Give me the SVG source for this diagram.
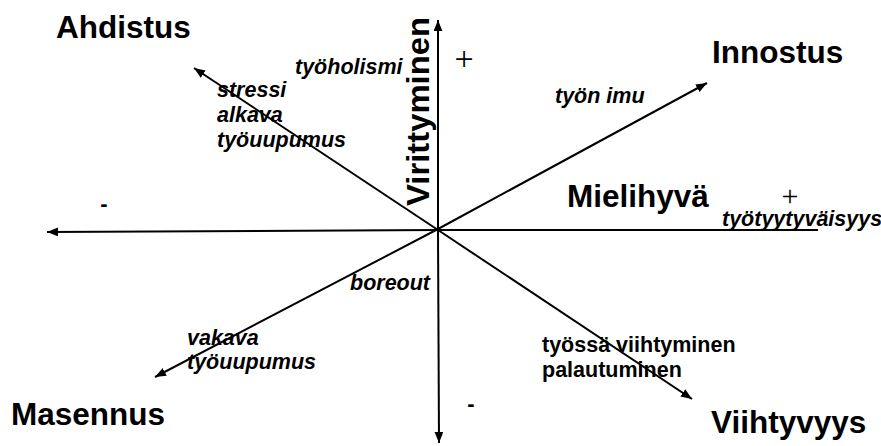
<svg xmlns="http://www.w3.org/2000/svg" width="881" height="446" viewBox="0 0 881 446">
<defs>
<marker id="ah" viewBox="0 0 10 8" refX="10" refY="4" markerWidth="11" markerHeight="9" markerUnits="userSpaceOnUse" orient="auto">
<path d="M0,0 L10,4 L0,8 z" fill="#000"/>
</marker>
<style>
.ax{stroke:#000;stroke-width:2;fill:none;marker-end:url(#ah)}
.big{font-family:"Liberation Sans",Arial,sans-serif;font-weight:bold;font-size:31.5px;fill:#000}
.lab{font-family:"Liberation Sans",Arial,sans-serif;font-weight:bold;font-style:italic;font-size:21.5px;fill:#000}
.labn{font-family:"Liberation Sans",Arial,sans-serif;font-weight:bold;font-size:21.5px;fill:#000}
.pl{font-family:"Liberation Serif","Times New Roman",serif;fill:#000}
.mi{font-family:"Liberation Sans",Arial,sans-serif;font-weight:bold;font-size:22px;fill:#000}
</style>
</defs>
<rect width="881" height="446" fill="#fff"/>
<g id="connectors">
<line class="ax" x1="438" y1="230" x2="438" y2="20"/>
<line class="ax" x1="438" y1="230" x2="439" y2="443"/>
<line class="ax" x1="438" y1="230" x2="47" y2="232"/>
<line x1="438" y1="230" x2="818" y2="230" stroke="#000" stroke-width="2"/>
<line class="ax" x1="438" y1="230" x2="194" y2="68"/>
<line class="ax" x1="438" y1="230" x2="692" y2="399"/>
<line class="ax" x1="438" y1="229" x2="707" y2="83"/>
<line class="ax" x1="438" y1="229" x2="155" y2="377"/>
</g>
<g id="ahdistus"><text class="big" x="56" y="38">Ahdistus</text></g>
<g id="innostus"><text class="big" x="712" y="63">Innostus</text></g>
<g id="masennus"><text class="big" x="11" y="425">Masennus</text></g>
<g id="viihtyvyys"><text class="big" x="711" y="433" font-size="32">Viihtyvyys</text></g>
<g id="mielihyva"><text class="big" x="567" y="207" font-size="29.5">Mielihyvä</text></g>
<g id="virittyminen"><text class="big" transform="translate(429,206) rotate(-90)" font-size="32" textLength="189" lengthAdjust="spacingAndGlyphs">Virittyminen</text></g>
<g id="labels">
<text class="lab" x="295" y="74">työholismi</text>
<text class="lab" x="217" y="97">stressi</text>
<text class="lab" x="217" y="122">alkava</text>
<text class="lab" x="217" y="147">työuupumus</text>
<text class="lab" x="555" y="103" font-size="24">työn imu</text>
<text class="lab" x="350" y="290">boreout</text>
<text class="lab" x="187" y="345">vakava</text>
<text class="lab" x="187" y="369">työuupumus</text>
<text class="labn" x="542" y="352">työssä viihtyminen</text>
<text class="labn" x="542" y="377">palautuminen</text>
<text class="lab" x="722" y="226" font-size="20">työtyytyväisyys</text>
</g>
<g id="signs">
<text class="pl" x="464" y="70" font-size="34" text-anchor="middle">+</text>
<text class="pl" x="790" y="206" font-size="30" text-anchor="middle">+</text>
<text class="mi" x="104" y="211" text-anchor="middle">-</text>
<text class="mi" x="471" y="411" text-anchor="middle">-</text>
</g>
</svg>
